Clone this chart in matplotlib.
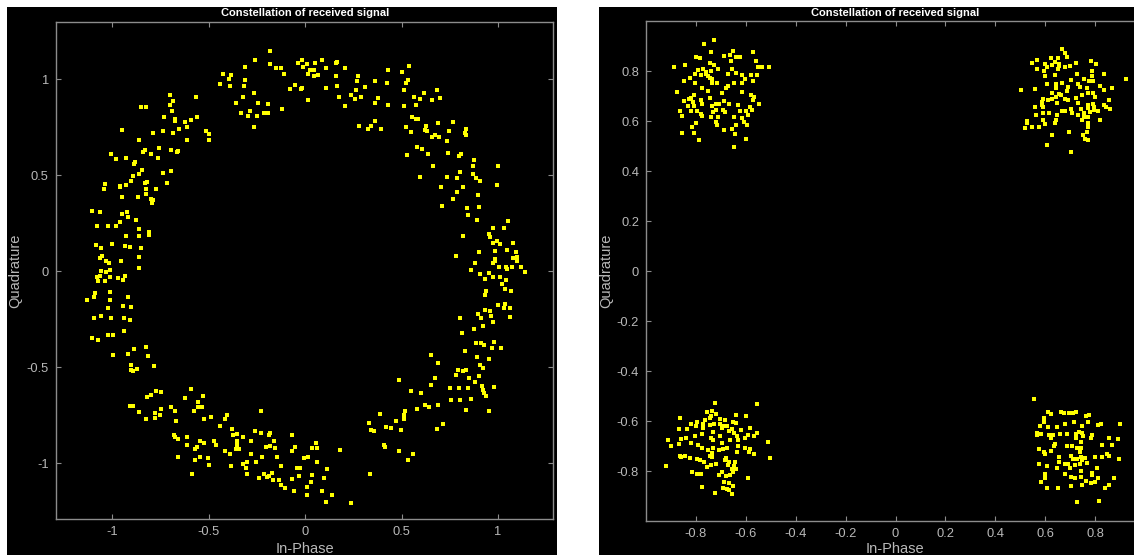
import matplotlib
matplotlib.use("Agg")
import matplotlib.pyplot as plt
from matplotlib.patches import Rectangle
from matplotlib import font_manager
import numpy as np

# ---------------------------------------------------------------------------
# Received symbols with a residual carrier offset (spread over the unit ring),
# listed arc by arc as (In-Phase, Quadrature) pairs.
# ---------------------------------------------------------------------------
ring_upper_left = [
    (-0.182, 1.147), (-0.258, 1.097), (-0.309, 1.062), (-0.183, 1.076), (-0.152, 1.055),
    (-0.125, 1.059), (-0.111, 1.028), (-0.035, 1.083), (-0.018, 1.097), (-0.011, 1.062),
    (-0.425, 1.028), (-0.385, 1.021), (-0.392, 1.000), (-0.439, 0.972), (-0.389, 0.965),
    (-0.316, 0.962), (-0.313, 0.993), (-0.052, 0.969), (-0.080, 0.948), (-0.021, 0.948),
    (-0.014, 0.955), (-0.263, 0.929), (-0.320, 0.908), (-0.358, 0.873), (-0.244, 0.877),
    (-0.192, 0.870), (-0.121, 0.842), (-0.330, 0.825), (-0.285, 0.835), (-0.296, 0.807),
    (-0.247, 0.807), (-0.213, 0.825), (-0.192, 0.825), (-0.265, 0.752),
    (-0.700, 0.918), (-0.682, 0.887), (-0.565, 0.904), (-0.848, 0.852), (-0.824, 0.856),
    (-0.700, 0.863), (-0.689, 0.832), (-0.731, 0.800), (-0.676, 0.790), (-0.672, 0.783),
    (-0.624, 0.776), (-0.589, 0.786), (-0.560, 0.804), (-0.613, 0.748), (-0.655, 0.741),
    (-0.734, 0.727), (-0.686, 0.717), (-0.786, 0.720), (-0.950, 0.734), (-0.511, 0.729),
    (-0.498, 0.712), (-0.498, 0.680), (-0.612, 0.680), (-0.859, 0.684), (-0.758, 0.639),
    (-0.828, 0.632), (-0.838, 0.618), (-0.800, 0.611), (-0.696, 0.628), (-0.693, 0.632),
    (-0.665, 0.618), (-0.658, 0.625), (-1.005, 0.608), (-0.978, 0.583), (-0.926, 0.587),
    (-0.879, 0.566), (-0.886, 0.559), (-0.762, 0.590), (-0.845, 0.528), (-0.738, 0.510),
    (-0.693, 0.521), (-0.859, 0.503), (-0.893, 0.493), (-0.903, 0.467), (-1.036, 0.453),
    (-1.043, 0.425), (-0.960, 0.443), (-0.960, 0.436), (-0.926, 0.450), (-0.831, 0.460),
    (-0.821, 0.463), (-0.772, 0.429), (-0.824, 0.429), (-0.717, 0.460), (-0.824, 0.401),
    (-0.864, 0.384), (-0.950, 0.387), (-0.800, 0.377), (-0.786, 0.370), (-0.793, 0.352),
    (-1.102, 0.311), (-1.061, 0.307), (-0.947, 0.299), (-0.922, 0.307), (-0.919, 0.281),
    (-0.876, 0.267), (-0.957, 0.257), (-0.978, 0.236), (-1.019, 0.236), (-1.078, 0.233),
    (-0.859, 0.219), (-0.807, 0.205), (-0.810, 0.189), (-0.862, 0.184), (-0.926, 0.180),
    (-1.002, 0.141), (-1.081, 0.135), (-1.057, 0.118), (-0.933, 0.132), (-0.909, 0.127),
    (-0.848, 0.118), (-1.050, 0.080), (-1.061, 0.066), (-1.033, 0.050), (-1.016, 0.043),
    (-0.954, 0.054), (-0.859, 0.075), (-1.057, -0.002), (-1.033, -0.005), (-1.012, 0.005),
    (-0.859, 0.016),
]

ring_upper_right = [
    (0.010, 1.076), (0.052, 1.083), (0.090, 1.101), (0.028, 1.048), (0.045, 1.045),
    (0.017, 1.028), (0.045, 1.014), (0.066, 1.021), (0.110, 1.055), (0.159, 1.083),
    (0.166, 1.090), (0.107, 0.955), (0.014, 0.891), (0.205, 1.055), (0.161, 1.017),
    (0.164, 0.962), (0.178, 0.904), (0.209, 0.859), (0.237, 0.915), (0.261, 0.897),
    (0.292, 0.908), (0.264, 0.944), (0.271, 0.989), (0.275, 1.017), (0.312, 0.958),
    (0.364, 0.989), (0.378, 0.901), (0.364, 0.873), (0.426, 0.977), (0.432, 1.045),
    (0.428, 0.863), (0.501, 1.035), (0.539, 1.066), (0.521, 0.979), (0.532, 0.993),
    (0.511, 0.944), (0.515, 0.859), (0.566, 0.908), (0.573, 0.866), (0.597, 0.897),
    (0.618, 0.925), (0.660, 0.891), (0.682, 0.942), (0.699, 0.901), (0.556, 0.804),
    (0.573, 0.790), (0.584, 0.793), (0.521, 0.752), (0.549, 0.724), (0.629, 0.755),
    (0.622, 0.734), (0.632, 0.731), (0.658, 0.696), (0.675, 0.706), (0.692, 0.696),
    (0.689, 0.769), (0.744, 0.731), (0.765, 0.776), (0.834, 0.738), (0.827, 0.720),
    (0.834, 0.706), (0.737, 0.675), (0.741, 0.614), (0.800, 0.600), (0.806, 0.611),
    (0.578, 0.645), (0.606, 0.635), (0.637, 0.607), (0.528, 0.604), (0.665, 0.548),
    (0.596, 0.488), (0.737, 0.488), (0.789, 0.484), (0.803, 0.514), (0.869, 0.503),
    (0.886, 0.484), (0.907, 0.467), (0.874, 0.576), (0.870, 0.545), (1.002, 0.545),
    (0.995, 0.450), (0.706, 0.439), (0.817, 0.439), (0.786, 0.411), (0.768, 0.373),
    (0.710, 0.340), (0.896, 0.397), (0.838, 0.328), (0.900, 0.332), (0.844, 0.290),
    (0.889, 0.266), (1.053, 0.262), (0.278, 0.755), (0.326, 0.742), (0.344, 0.755),
    (0.361, 0.783), (0.394, 0.738), (0.972, 0.222), (0.952, 0.194), (0.958, 0.177),
    (1.033, 0.222), (0.972, 0.146), (0.993, 0.156), (1.010, 0.142), (1.079, 0.146),
    (0.820, 0.180), (0.983, 0.106), (1.045, 0.109), (1.093, 0.099), (0.903, 0.099),
    (0.782, 0.078), (0.879, 0.043), (0.983, 0.064), (0.986, 0.054), (0.976, 0.040),
    (1.079, 0.068), (1.097, 0.071), (1.097, 0.050), (1.007, 0.023), (1.041, 0.019),
    (1.048, 0.009), (1.072, 0.023), (1.121, 0.019), (1.138, -0.005), (0.858, 0.005),
    (0.907, -0.017), (0.955, -0.012),
]

ring_lower_left = [
    (-1.080, -0.033), (-1.064, -0.024), (-1.012, -0.031), (-0.967, -0.038), (-0.943, -0.045),
    (-0.933, -0.028), (-1.074, -0.052), (-1.036, -0.052), (-1.009, -0.108), (-1.088, -0.115),
    (-1.095, -0.136), (-1.128, -0.153), (-1.012, -0.153), (-0.916, -0.136), (-1.023, -0.191),
    (-0.943, -0.184), (-0.902, -0.187), (-1.092, -0.243), (-1.057, -0.233), (-1.005, -0.243),
    (-0.940, -0.243), (-0.905, -0.257), (-0.940, -0.311), (-1.023, -0.332), (-0.995, -0.332),
    (-1.106, -0.349), (-1.071, -0.359), (-0.995, -0.439), (-0.885, -0.404), (-0.824, -0.398),
    (-0.919, -0.432), (-0.814, -0.443), (-0.900, -0.488), (-0.903, -0.514), (-0.893, -0.521),
    (-0.871, -0.510), (-0.783, -0.493),
    (-0.772, -0.625), (-0.745, -0.632), (-0.800, -0.646), (-0.821, -0.656), (-0.907, -0.701),
    (-0.890, -0.701), (-0.862, -0.734), (-0.745, -0.720), (-0.779, -0.741), (-0.752, -0.752),
    (-0.824, -0.773), (-0.776, -0.766), (-0.693, -0.707), (-0.672, -0.731), (-0.669, -0.779),
    (-0.593, -0.614), (-0.620, -0.660), (-0.529, -0.649), (-0.553, -0.684), (-0.553, -0.710),
    (-0.536, -0.710), (-0.577, -0.727), (-0.522, -0.773), (-0.487, -0.759), (-0.442, -0.807),
    (-0.416, -0.773), (-0.406, -0.748), (-0.379, -0.821), (-0.375, -0.856), (-0.354, -0.849),
    (-0.323, -0.863), (-0.351, -0.884), (-0.351, -0.904), (-0.358, -0.925), (-0.341, -0.925),
    (-0.282, -0.884), (-0.258, -0.832), (-0.227, -0.845), (-0.188, -0.856), (-0.182, -0.845),
    (-0.161, -0.884), (-0.202, -0.918), (-0.182, -0.911), (-0.154, -0.922), (-0.230, -0.731),
    (-0.066, -0.852), (-0.052, -0.918), (-0.066, -0.936), (-0.679, -0.856), (-0.676, -0.866),
    (-0.658, -0.873), (-0.613, -0.863), (-0.613, -0.908), (-0.572, -0.925), (-0.560, -0.918),
    (-0.543, -0.887), (-0.522, -0.894), (-0.473, -0.887), (-0.463, -0.904), (-0.413, -0.939),
    (-0.389, -0.953), (-0.278, -0.953), (-0.223, -0.967), (-0.147, -0.969), (-0.005, -0.975),
    (-0.658, -0.967), (-0.570, -0.983), (-0.543, -0.969), (-0.501, -0.975), (-0.498, -1.010),
    (-0.382, -1.014), (-0.323, -1.003), (-0.299, -0.993), (-0.306, -1.028), (-0.254, -0.993),
    (-0.299, -1.055), (-0.240, -1.080), (-0.213, -1.055), (-0.199, -1.073), (-0.188, -1.066),
    (-0.171, -1.052), (-0.164, -1.090), (-0.137, -1.090), (-0.126, -1.017), (-0.123, -1.114),
    (-0.106, -1.132), (-0.068, -1.083), (-0.056, -1.144), (-0.042, -1.028), (-0.024, -1.028),
    (-0.031, -1.066), (-0.584, -1.059),
]

ring_lower_right = [
    (0.933, -0.040), (0.974, -0.030), (1.012, -0.030), (1.043, -0.047), (1.021, -0.068),
    (1.038, -0.092), (1.069, -0.102), (0.939, -0.102), (0.933, -0.127), (0.998, -0.177),
    (1.036, -0.170), (1.033, -0.194), (1.064, -0.191), (1.060, -0.240), (0.933, -0.205),
    (0.957, -0.208), (0.898, -0.226), (0.912, -0.247), (0.964, -0.236), (0.974, -0.264),
    (0.922, -0.288), (0.877, -0.302), (0.805, -0.243), (0.812, -0.321), (0.888, -0.373),
    (0.912, -0.377), (0.926, -0.387), (0.981, -0.370), (0.970, -0.401), (1.015, -0.401),
    (0.829, -0.415), (0.891, -0.450), (0.953, -0.457), (0.905, -0.491), (0.922, -0.505),
    (0.793, -0.514), (0.782, -0.542), (0.820, -0.521), (0.834, -0.517), (0.848, -0.559),
    (0.882, -0.580), (0.900, -0.549), (0.919, -0.601), (0.922, -0.618), (0.929, -0.635),
    (0.939, -0.653), (0.977, -0.604), (0.751, -0.608), (0.796, -0.608), (0.843, -0.608),
    (0.755, -0.670), (0.803, -0.670), (0.862, -0.667), (0.834, -0.726), (0.953, -0.729),
    (0.654, -0.439), (0.689, -0.481), (0.675, -0.556), (0.651, -0.594), (0.489, -0.569),
    (0.547, -0.625), (0.599, -0.635), (0.578, -0.719), (0.620, -0.700), (0.641, -0.710),
    (0.689, -0.700), (0.518, -0.727), (0.515, -0.750), (0.511, -0.769), (0.470, -0.779),
    (0.390, -0.745), (0.330, -0.790), (0.421, -0.814), (0.445, -0.818), (0.497, -0.828),
    (0.342, -0.828), (0.359, -0.835), (0.686, -0.825), (0.713, -0.797), (0.411, -0.904),
    (0.416, -0.917), (0.487, -0.936), (0.561, -0.955), (0.534, -0.983), (0.181, -0.932),
    (0.059, -0.894), (0.038, -0.922), (0.062, -0.922), (0.017, -0.967), (0.062, -0.993),
    (0.114, -1.031), (0.038, -1.062), (0.031, -1.097), (0.097, -1.076), (0.010, -1.127),
    (0.086, -1.144), (0.010, -1.168), (0.138, -1.165), (0.110, -1.203), (0.240, -1.207),
    (0.338, -1.059),
]

# ---------------------------------------------------------------------------
# Received QPSK symbols after carrier recovery: one cloud per constellation point.
# ---------------------------------------------------------------------------
qpsk_q2 = [  # around (-0.707, +0.707)
    (-0.767, 0.910), (-0.729, 0.923), (-0.740, 0.878), (-0.800, 0.855), (-0.784, 0.852),
    (-0.687, 0.860), (-0.663, 0.863), (-0.651, 0.880), (-0.641, 0.858), (-0.622, 0.858),
    (-0.570, 0.878), (-0.561, 0.839), (-0.661, 0.842), (-0.743, 0.831), (-0.729, 0.823),
    (-0.844, 0.823), (-0.886, 0.818), (-0.711, 0.810), (-0.793, 0.804), (-0.772, 0.807),
    (-0.759, 0.796), (-0.740, 0.802), (-0.802, 0.788), (-0.780, 0.786), (-0.761, 0.788),
    (-0.751, 0.780), (-0.743, 0.772), (-0.737, 0.767), (-0.823, 0.772), (-0.848, 0.762),
    (-0.804, 0.751), (-0.735, 0.751), (-0.716, 0.751), (-0.673, 0.788), (-0.657, 0.807),
    (-0.639, 0.794), (-0.614, 0.783), (-0.604, 0.770), (-0.580, 0.786), (-0.556, 0.783),
    (-0.550, 0.818), (-0.537, 0.818), (-0.506, 0.815), (-0.570, 0.762), (-0.649, 0.751),
    (-0.617, 0.751), (-0.681, 0.731), (-0.671, 0.740), (-0.775, 0.732), (-0.751, 0.722),
    (-0.697, 0.712), (-0.617, 0.715), (-0.580, 0.704), (-0.569, 0.698), (-0.572, 0.686),
    (-0.548, 0.670), (-0.876, 0.716), (-0.807, 0.703), (-0.820, 0.691), (-0.847, 0.680),
    (-0.828, 0.688), (-0.812, 0.675), (-0.780, 0.686), (-0.775, 0.670), (-0.743, 0.692),
    (-0.719, 0.670), (-0.708, 0.670), (-0.687, 0.680), (-0.668, 0.667), (-0.633, 0.664),
    (-0.585, 0.656), (-0.574, 0.643), (-0.831, 0.659), (-0.807, 0.659), (-0.794, 0.640),
    (-0.820, 0.640), (-0.863, 0.642), (-0.855, 0.619), (-0.780, 0.627), (-0.777, 0.619),
    (-0.737, 0.662), (-0.732, 0.638), (-0.721, 0.643), (-0.692, 0.643), (-0.684, 0.638),
    (-0.713, 0.616), (-0.740, 0.616), (-0.649, 0.616), (-0.622, 0.640), (-0.598, 0.640),
    (-0.590, 0.624), (-0.614, 0.614), (-0.606, 0.595), (-0.596, 0.584), (-0.639, 0.584),
    (-0.721, 0.598), (-0.716, 0.584), (-0.799, 0.594), (-0.815, 0.576), (-0.807, 0.554),
    (-0.855, 0.552), (-0.788, 0.524), (-0.687, 0.566), (-0.657, 0.568), (-0.644, 0.547),
    (-0.601, 0.529), (-0.649, 0.495),
]

qpsk_q1 = [  # around (+0.707, +0.707)
    (0.668, 0.888), (0.679, 0.872), (0.689, 0.858), (0.548, 0.834), (0.569, 0.844),
    (0.623, 0.852), (0.652, 0.852), (0.641, 0.836), (0.657, 0.828), (0.657, 0.820),
    (0.599, 0.828), (0.609, 0.818), (0.628, 0.823), (0.652, 0.807), (0.679, 0.815),
    (0.698, 0.820), (0.724, 0.834), (0.783, 0.842), (0.802, 0.828), (0.569, 0.807),
    (0.596, 0.802), (0.599, 0.780), (0.641, 0.783), (0.727, 0.788), (0.786, 0.799),
    (0.788, 0.780), (0.756, 0.767), (0.775, 0.762), (0.791, 0.759), (0.836, 0.788),
    (0.703, 0.764), (0.607, 0.748), (0.644, 0.748), (0.644, 0.732), (0.668, 0.751),
    (0.692, 0.738), (0.689, 0.722), (0.730, 0.748), (0.740, 0.735), (0.767, 0.732),
    (0.791, 0.711), (0.818, 0.740), (0.834, 0.724), (0.866, 0.732), (0.922, 0.767),
    (0.505, 0.724), (0.561, 0.730), (0.628, 0.714), (0.655, 0.708), (0.665, 0.703),
    (0.748, 0.703), (0.772, 0.711), (0.722, 0.692), (0.591, 0.690), (0.612, 0.684),
    (0.628, 0.690), (0.644, 0.695), (0.679, 0.687), (0.692, 0.684), (0.799, 0.695),
    (0.855, 0.684), (0.647, 0.671), (0.588, 0.676), (0.588, 0.666), (0.593, 0.658),
    (0.561, 0.655), (0.730, 0.674), (0.772, 0.666), (0.791, 0.668), (0.794, 0.658),
    (0.834, 0.666), (0.844, 0.658), (0.858, 0.650), (0.681, 0.639), (0.703, 0.647),
    (0.668, 0.642), (0.615, 0.634), (0.591, 0.631), (0.564, 0.623), (0.649, 0.623),
    (0.708, 0.634), (0.730, 0.626), (0.743, 0.647), (0.754, 0.631), (0.770, 0.652),
    (0.780, 0.636), (0.794, 0.644), (0.812, 0.642), (0.754, 0.615), (0.772, 0.618),
    (0.644, 0.604), (0.639, 0.594), (0.593, 0.604), (0.599, 0.588), (0.527, 0.600),
    (0.527, 0.591), (0.521, 0.572), (0.548, 0.575), (0.577, 0.575), (0.746, 0.604),
    (0.772, 0.594), (0.820, 0.604), (0.770, 0.575), (0.767, 0.556), (0.695, 0.556),
    (0.628, 0.546), (0.751, 0.543), (0.759, 0.530), (0.772, 0.526), (0.609, 0.506),
    (0.703, 0.477),
]

qpsk_q3 = [  # around (-0.707, -0.707)
    (-0.724, -0.528), (-0.756, -0.562), (-0.735, -0.560), (-0.719, -0.570), (-0.740, -0.581),
    (-0.745, -0.589), (-0.764, -0.597), (-0.772, -0.610), (-0.772, -0.626), (-0.796, -0.602),
    (-0.820, -0.610), (-0.801, -0.618), (-0.834, -0.632), (-0.866, -0.632), (-0.862, -0.586),
    (-0.703, -0.592), (-0.684, -0.594), (-0.705, -0.610), (-0.727, -0.610), (-0.743, -0.616),
    (-0.692, -0.618), (-0.697, -0.629), (-0.676, -0.618), (-0.652, -0.602), (-0.641, -0.608),
    (-0.638, -0.576), (-0.598, -0.581), (-0.557, -0.533), (-0.654, -0.632), (-0.668, -0.640),
    (-0.649, -0.648), (-0.620, -0.637), (-0.585, -0.629), (-0.732, -0.642), (-0.705, -0.658),
    (-0.663, -0.674), (-0.636, -0.661), (-0.633, -0.674), (-0.604, -0.669), (-0.590, -0.656),
    (-0.566, -0.661), (-0.556, -0.648), (-0.775, -0.653), (-0.804, -0.661), (-0.839, -0.669),
    (-0.858, -0.672), (-0.911, -0.677), (-0.868, -0.690), (-0.898, -0.698), (-0.820, -0.688),
    (-0.791, -0.696), (-0.777, -0.706), (-0.740, -0.666), (-0.732, -0.674), (-0.695, -0.688),
    (-0.692, -0.712), (-0.676, -0.706), (-0.708, -0.717), (-0.732, -0.709), (-0.630, -0.698),
    (-0.604, -0.706), (-0.585, -0.712), (-0.588, -0.722), (-0.569, -0.733), (-0.636, -0.722),
    (-0.751, -0.714), (-0.737, -0.728), (-0.745, -0.738), (-0.735, -0.744), (-0.679, -0.749),
    (-0.684, -0.757), (-0.644, -0.762), (-0.668, -0.765), (-0.673, -0.776), (-0.646, -0.781),
    (-0.657, -0.792), (-0.641, -0.792), (-0.719, -0.773), (-0.740, -0.776), (-0.756, -0.784),
    (-0.769, -0.765), (-0.783, -0.757), (-0.796, -0.752), (-0.823, -0.746), (-0.842, -0.738),
    (-0.858, -0.744), (-0.863, -0.738), (-0.513, -0.685), (-0.505, -0.749), (-0.920, -0.781),
    (-0.815, -0.805), (-0.796, -0.810), (-0.780, -0.813), (-0.708, -0.816), (-0.697, -0.805),
    (-0.679, -0.818), (-0.665, -0.816), (-0.652, -0.805), (-0.689, -0.842), (-0.668, -0.848),
    (-0.652, -0.858), (-0.676, -0.872), (-0.692, -0.866), (-0.668, -0.877), (-0.657, -0.890),
    (-0.724, -0.888), (-0.777, -0.864), (-0.593, -0.826),
]

qpsk_q4 = [  # around (+0.707, -0.707)
    (0.557, -0.510), (0.612, -0.562), (0.623, -0.573), (0.663, -0.562), (0.676, -0.568),
    (0.695, -0.568), (0.713, -0.568), (0.724, -0.565), (0.762, -0.578), (0.775, -0.576),
    (0.596, -0.586), (0.596, -0.605), (0.580, -0.618), (0.612, -0.624), (0.649, -0.624),
    (0.681, -0.610), (0.716, -0.605), (0.746, -0.618), (0.772, -0.605), (0.812, -0.616),
    (0.823, -0.610), (0.898, -0.610), (0.567, -0.648), (0.569, -0.656), (0.585, -0.650),
    (0.615, -0.656), (0.633, -0.656), (0.625, -0.669), (0.660, -0.650), (0.687, -0.653),
    (0.724, -0.650), (0.735, -0.642), (0.746, -0.648), (0.751, -0.661), (0.724, -0.666),
    (0.743, -0.682), (0.786, -0.656), (0.783, -0.666), (0.855, -0.666), (0.890, -0.672),
    (0.639, -0.690), (0.636, -0.701), (0.687, -0.701), (0.708, -0.698), (0.729, -0.706),
    (0.743, -0.709), (0.738, -0.722), (0.826, -0.696), (0.868, -0.696), (0.575, -0.712),
    (0.596, -0.722), (0.601, -0.733), (0.625, -0.720), (0.655, -0.742), (0.705, -0.740),
    (0.713, -0.753), (0.729, -0.750), (0.743, -0.744), (0.748, -0.754), (0.759, -0.746),
    (0.767, -0.768), (0.799, -0.744), (0.826, -0.744), (0.847, -0.733), (0.855, -0.741),
    (0.895, -0.752), (0.575, -0.773), (0.607, -0.778), (0.655, -0.765), (0.679, -0.770),
    (0.692, -0.773), (0.721, -0.776), (0.740, -0.770), (0.647, -0.786), (0.700, -0.789),
    (0.743, -0.800), (0.786, -0.808), (0.807, -0.786), (0.601, -0.810), (0.679, -0.813),
    (0.705, -0.824), (0.721, -0.826), (0.743, -0.824), (0.788, -0.816), (0.810, -0.829),
    (0.599, -0.829), (0.585, -0.844), (0.764, -0.840), (0.783, -0.846), (0.799, -0.845),
    (0.855, -0.856), (0.874, -0.826), (0.839, -0.869), (0.748, -0.856), (0.703, -0.861),
    (0.652, -0.866), (0.607, -0.869), (0.729, -0.922), (0.815, -0.920),
]

TITLE = "Constellation of received signal"
XLABEL = "In-Phase"
YLABEL = "Quadrature"
ring_xticks = [-1, -0.5, 0, 0.5, 1]
ring_yticks = [-1, -0.5, 0, 0.5, 1]
qpsk_ticks = [-0.8, -0.6, -0.4, -0.2, 0, 0.2, 0.4, 0.6, 0.8]

# ---------------------------------------------------------------------------
W, H = 1134, 555
DPI = 100
plt.rcParams["font.family"] = ["Liberation Sans", "DejaVu Sans"]

# condensed face for the bold titles, when the narrow cut is installed
installed = {f.name for f in font_manager.fontManager.ttflist}
if "Liberation Sans Narrow" in installed:
    TITLE_FONT, TITLE_SIZE = ["Liberation Sans Narrow", "DejaVu Sans"], 9.4
else:
    TITLE_FONT, TITLE_SIZE = ["Liberation Sans", "DejaVu Sans"], 8.0

fig = plt.figure(figsize=(W / DPI, H / DPI), dpi=DPI, facecolor="white")


def box(x0, y0, x1, y1):
    """Pixel box measured from the top-left corner -> figure-fraction rect."""
    return [x0 / W, 1 - y1 / H, (x1 - x0) / W, (y1 - y0) / H]


AX_COLOR = "#8c8c8c"
LABEL_COLOR = "#b8b8b8"
DOT_COLOR = "#ffff00"


def style_axes(ax, xlim, ylim, xticks, yticks):
    ax.set_facecolor("black")
    ax.set_xlim(*xlim)
    ax.set_ylim(*ylim)
    ax.set_xticks(xticks)
    ax.set_yticks(yticks)
    ax.set_xticklabels([f"{t:g}" for t in xticks])
    ax.set_yticklabels([f"{t:g}" for t in yticks])
    for sp in ax.spines.values():
        sp.set_color(AX_COLOR)
        sp.set_linewidth(1.0)
    ax.tick_params(direction="in", length=3.6, width=0.8, color=AX_COLOR,
                   labelcolor=LABEL_COLOR, labelsize=9.3,
                   top=True, right=True, pad=5)


def scatter_points(ax, groups):
    pts = np.array([p for g in groups for p in g])
    ax.scatter(pts[:, 0], pts[:, 1], s=5.5, marker="s", color=DOT_COLOR,
               linewidths=0, zorder=3)


# dark panels behind each plot
for rect in (box(7, 7, 557, 560), box(599, 7, 1140, 560)):
    fig.patches.append(Rectangle((rect[0], rect[1]), rect[2], rect[3],
                                 transform=fig.transFigure, facecolor="black",
                                 edgecolor="none", zorder=-10))

# left: ring of rotating symbols
ax1 = fig.add_axes(box(55.7, 22, 553, 518.7))
style_axes(ax1, (-1.292, 1.285), (-1.290, 1.297), ring_xticks, ring_yticks)
scatter_points(ax1, [ring_upper_left, ring_upper_right, ring_lower_left, ring_lower_right])

# right: four QPSK clouds
ax2 = fig.add_axes(box(646, 21, 1145, 521))
style_axes(ax2, (-1.0, 1.0), (-1.0, 1.0), qpsk_ticks, qpsk_ticks)
scatter_points(ax2, [qpsk_q1, qpsk_q2, qpsk_q3, qpsk_q4])

for ax, cx, ylab_x in ((ax1, 305, 15), (ax2, 895, 606)):
    fig.text(cx / W, 1 - 13 / H, TITLE, color="white", fontsize=TITLE_SIZE,
             family=TITLE_FONT, fontweight="bold", ha="center", va="center")
    fig.text(cx / W, 1 - 549 / H, XLABEL, color=LABEL_COLOR, fontsize=10.5,
             ha="center", va="center")
    fig.text(ylab_x / W, 1 - 271 / H, YLABEL, color=LABEL_COLOR, fontsize=10.5,
             ha="center", va="center", rotation=90)

fig.savefig("out.png", dpi=DPI, facecolor="white")
